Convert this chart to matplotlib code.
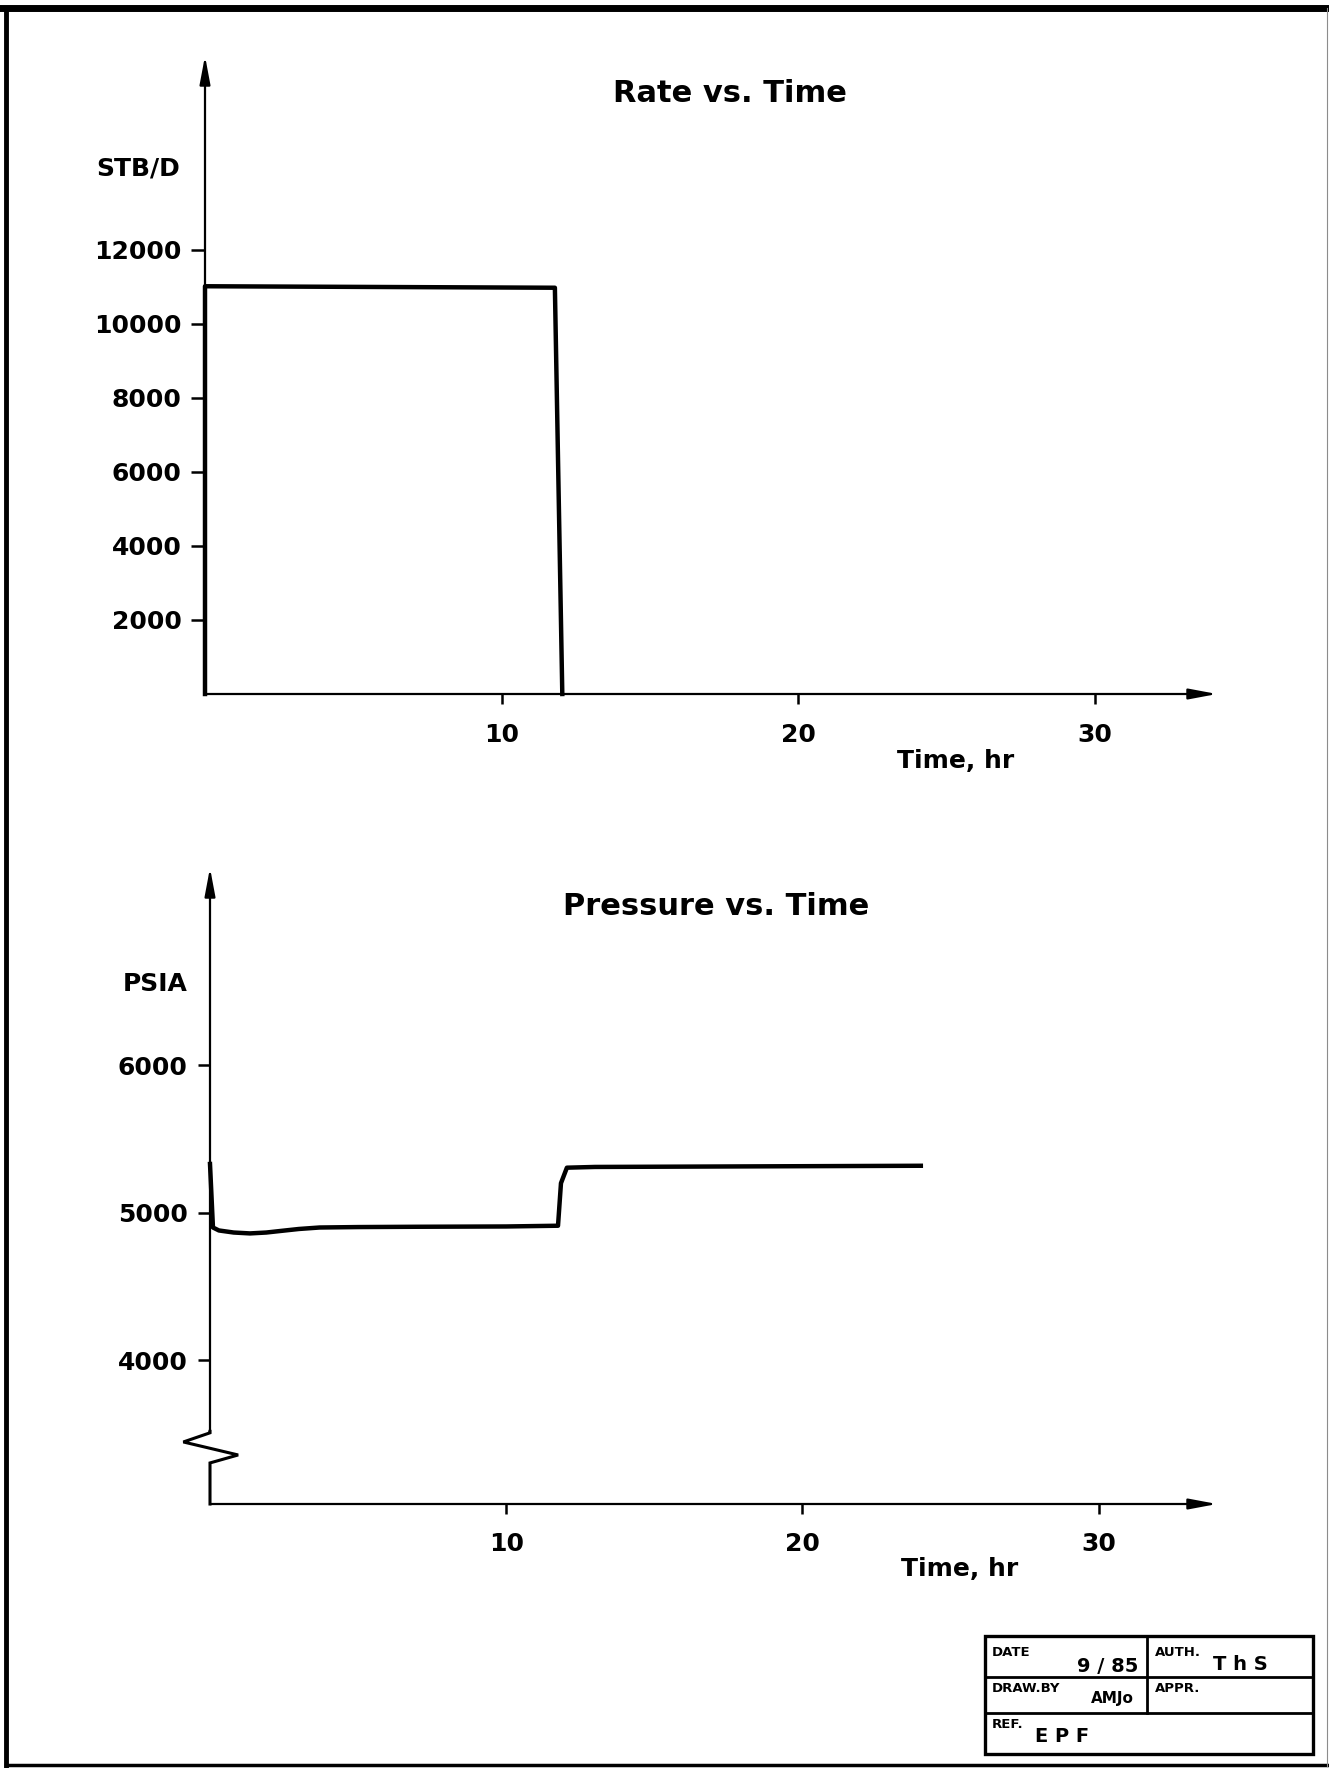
import matplotlib
matplotlib.use("Agg")
import matplotlib.pyplot as plt
from matplotlib.lines import Line2D
from matplotlib.patches import Rectangle

plt.rcParams['font.family'] = ['DejaVu Sans']
plt.rcParams['font.weight'] = 'bold'

# -----------------------------------------
# Données
# -----------------------------------------
rate_t = [0.0, 0.0, 6.0, 11.8, 12.05]                  # temps (hr)
rate_q = [0.0, 11020.0, 11000.0, 10980.0, 0.0]         # débit (STB/D)
rate_yticks = [2000, 4000, 6000, 8000, 10000, 12000]

pres_t = [0.0, 0.1, 0.3, 0.8, 1.35, 1.9, 2.4, 3.0, 3.7, 5.0, 7.0, 10.0, 11.75,
          11.85, 12.05, 13.0, 24.0]
pres_p = [5330, 4900, 4880, 4866, 4860, 4866, 4877, 4890, 4900, 4903, 4905, 4907,
          4912, 5200, 5305, 5310, 5318]
pres_yticks = [4000, 5000, 6000]

time_ticks = [10, 20, 30]

W, H = 1329, 1768


def fx(px):
    return px / W


def fy(py):
    return 1 - py / H


fig = plt.figure(figsize=(W / 100, H / 100), dpi=100)
fig.patch.set_facecolor("white")

arrow = dict(arrowstyle="-|>,head_length=1.7,head_width=0.32", lw=1.6,
             color="black", shrinkA=0, shrinkB=0)

# -----------------------------------------
# Débit en fonction du temps
# -----------------------------------------
ax1 = fig.add_axes([fx(205), fy(694), fx(1217) - fx(205), fy(56) - fy(694)])
ax1.set_xlim(0, 34.13)
ax1.set_ylim(0, 17243)
for s in ax1.spines.values():
    s.set_visible(False)
ax1.annotate("", xy=(34.13, 0), xytext=(0, 0), arrowprops=arrow, annotation_clip=False)
ax1.annotate("", xy=(0, 17243), xytext=(0, 0), arrowprops=arrow, annotation_clip=False)
ax1.plot(rate_t, rate_q, color="black", lw=3.2, clip_on=False, solid_joinstyle="round")
ax1.set_yticks(rate_yticks)
ax1.set_xticks(time_ticks)
ax1.tick_params(axis="y", direction="out", length=10, width=1.8, pad=7, labelsize=18)
ax1.tick_params(axis="x", direction="out", length=7, width=1.8, pad=14, labelsize=18)
ax1.annotate("STB/D", xy=(0, 14200), xytext=(-25, 0), textcoords="offset pixels",
             ha="right", va="center", fontsize=18)
ax1.annotate("Time, hr", xy=(25.3, 0), xytext=(0, -67), textcoords="offset pixels",
             ha="center", va="center", fontsize=18, annotation_clip=False)
fig.text(fx(730), fy(93), "Rate vs. Time", ha="center", va="center", fontsize=22)

# -----------------------------------------
# Pression en fonction du temps
# -----------------------------------------
ymin, ymax = 3028, 7334
ax2 = fig.add_axes([fx(210), fy(1504), fx(1217) - fx(210), fy(868) - fy(1504)])
ax2.set_xlim(0, 34.0)
ax2.set_ylim(ymin, ymax)
for s in ax2.spines.values():
    s.set_visible(False)
ax2.annotate("", xy=(34.0, ymin), xytext=(0, ymin), arrowprops=arrow, annotation_clip=False)
ax2.annotate("", xy=(0, ymax), xytext=(0, 3510), arrowprops=arrow, annotation_clip=False)
# coupure de l'axe (zigzag)
break_t = [0, 0, -0.9, 0.95, 0, 0]
break_p = [3520, 3510, 3448, 3360, 3306, ymin]
ax2.plot(break_t, break_p, color="black", lw=2.2, clip_on=False, solid_joinstyle="miter")
ax2.plot(pres_t, pres_p, color="black", lw=3.2, clip_on=False, solid_joinstyle="round")
ax2.set_yticks(pres_yticks)
ax2.set_xticks(time_ticks)
ax2.tick_params(axis="y", direction="out", length=9, width=1.8, pad=7, labelsize=18)
ax2.tick_params(axis="x", direction="out", length=7, width=1.8, pad=13, labelsize=18)
ax2.annotate("PSIA", xy=(0, 6550), xytext=(-22, 0), textcoords="offset pixels",
             ha="right", va="center", fontsize=18)
ax2.annotate("Time, hr", xy=(25.3, ymin), xytext=(0, -65), textcoords="offset pixels",
             ha="center", va="center", fontsize=18, annotation_clip=False)
fig.text(fx(716), fy(907), "Pressure vs. Time", ha="center", va="center", fontsize=22)

# -----------------------------------------
# Cadre de la page
# -----------------------------------------
fig.add_artist(Line2D([fx(0), fx(W)], [fy(8), fy(8)], transform=fig.transFigure,
                      color="black", lw=5))
fig.add_artist(Line2D([fx(6), fx(6)], [fy(8), fy(1766)], transform=fig.transFigure,
                      color="black", lw=3.5))
fig.add_artist(Line2D([fx(6), fx(W)], [fy(1765), fy(1765)], transform=fig.transFigure,
                      color="black", lw=2.5))
fig.add_artist(Line2D([fx(1327), fx(1327)], [fy(8), fy(1766)], transform=fig.transFigure,
                      color="0.55", lw=0.8))

# -----------------------------------------
# Cartouche
# -----------------------------------------
fig.add_artist(Rectangle((fx(985), fy(1754)), fx(1313) - fx(985), fy(1636) - fy(1754),
                         transform=fig.transFigure, fill=False, lw=2.4, ec="black"))
for yy in [1677, 1713]:
    fig.add_artist(Line2D([fx(985), fx(1313)], [fy(yy), fy(yy)], transform=fig.transFigure,
                          color="black", lw=2.0))
fig.add_artist(Line2D([fx(1147), fx(1147)], [fy(1636), fy(1713)], transform=fig.transFigure,
                      color="black", lw=2.0))

small = dict(fontsize=9.5, ha="left", va="center")
fig.text(fx(992), fy(1653), "DATE", **small)
fig.text(fx(1155), fy(1653), "AUTH.", **small)
fig.text(fx(992), fy(1689), "DRAW.BY", **small)
fig.text(fx(1155), fy(1689), "APPR.", **small)
fig.text(fx(992), fy(1725), "REF.", **small)
fig.text(fx(1138), fy(1666), "9 / 85", fontsize=14, ha="right", va="center")
fig.text(fx(1240), fy(1664), "T h S", fontsize=14, ha="center", va="center")
fig.text(fx(1112), fy(1699), "AMJo", fontsize=11, ha="center", va="center")
fig.text(fx(1062), fy(1736), "E P F", fontsize=14, ha="center", va="center")

fig.savefig("out.png", dpi=100, facecolor="white")
